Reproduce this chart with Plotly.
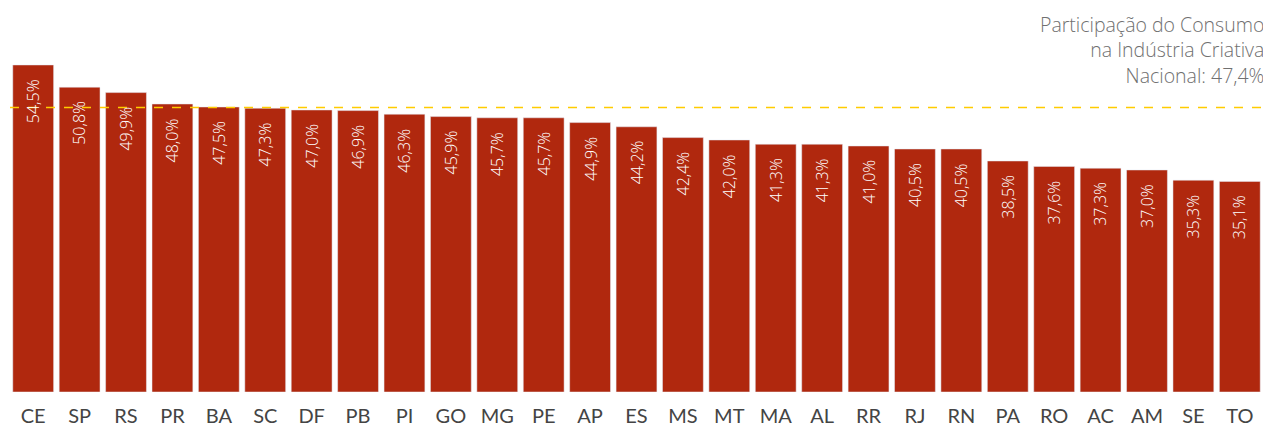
import plotly.graph_objects as go

estados = ["CE","SP","RS","PR","BA","SC","DF","PB","PI","GO","MG","PE","AP","ES","MS","MT","MA","AL","RR","RJ","RN","PA","RO","AC","AM","SE","TO"]
valores = [54.5,50.8,49.9,48.0,47.5,47.3,47.0,46.9,46.3,45.9,45.7,45.7,44.9,44.2,42.4,42.0,41.3,41.3,41.0,40.5,40.5,38.5,37.6,37.3,37.0,35.3,35.1]
media_nacional = 47.4
rotulos = [f"{v:.1f}%".replace(".", ",") for v in valores]
legenda = ["Participação do Consumo", "na Indústria Criativa", "Nacional: 47,4%"]

fig = go.Figure()
fig.add_trace(go.Bar(
    x=estados, y=valores,
    marker=dict(color="#B0280E"),
    hoverinfo="skip",
))
fig.add_shape(type="line", xref="paper", yref="y", x0=0, x1=1,
              y0=media_nacional, y1=media_nacional,
              line=dict(color="#FFCC00", width=1.5, dash="dash"))
for e, v, r in zip(estados, valores, rotulos):
    fig.add_annotation(x=e, y=v, xref="x", yref="y", text=r, textangle=-90,
                       showarrow=False, xanchor="center", yanchor="top", yshift=-12,
                       font=dict(color="white", size=16, family="Open Sans", weight=300))
fig.add_annotation(xref="paper", yref="paper", x=1, y=1.0, xanchor="right", yanchor="middle",
                   align="right", showarrow=False, yshift=-50, xshift=2, borderpad=0,
                   text="<br>".join(legenda),
                   font=dict(size=19.5, color="#707070", family="Open Sans", weight=300))
fig.update_layout(
    width=1263, height=432,
    margin=dict(l=10, r=0, t=0, b=40),
    plot_bgcolor="white", paper_bgcolor="white",
    bargap=0.12, showlegend=False,
    xaxis=dict(showgrid=False, zeroline=False, showline=False,
               tickfont=dict(size=20, color="#444444", family="Lato"),
               ticks="", ticklabelstandoff=10),
    yaxis=dict(range=[0, 65.33], visible=False),
)
fig.write_html("out.html", config={"displayModeBar": False},
               post_script="document.body.style.margin='0';document.body.style.overflow='hidden';")
